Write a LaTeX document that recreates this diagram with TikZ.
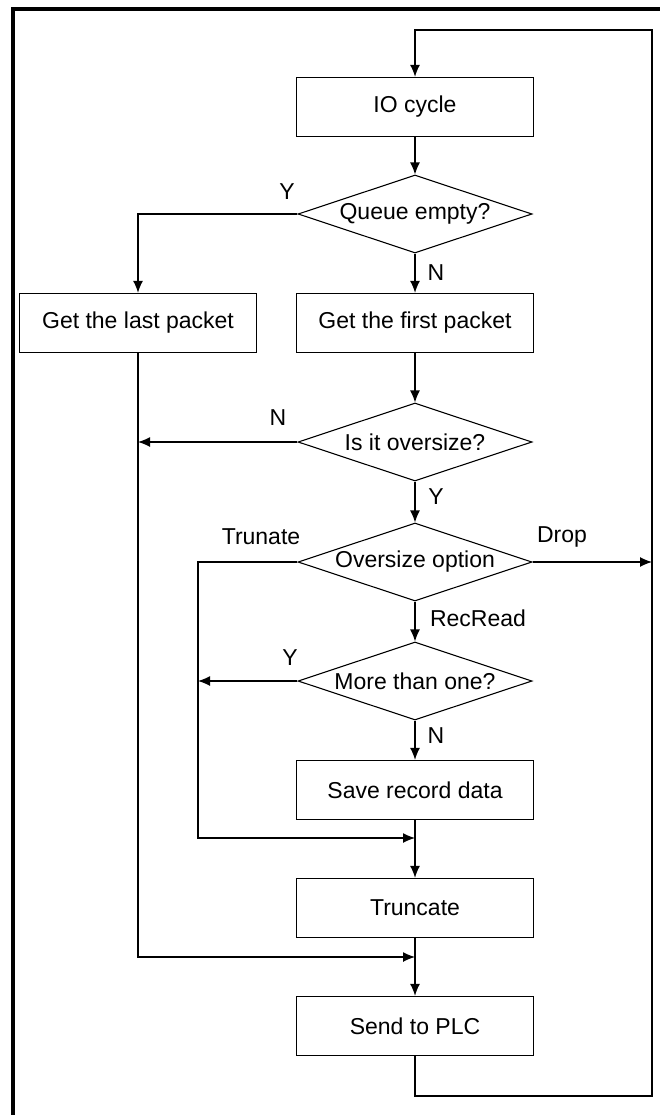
\documentclass[tikz,border=0pt]{standalone}
\usepackage{fontspec}
\setmainfont{Liberation Sans}
\usetikzlibrary{shapes.geometric,arrows.meta}
\begin{document}
\begin{tikzpicture}[
            x = 1pt, y = -1pt,
            font = \fontsize{23}{27}\selectfont,
            block/.style = {
                rectangle,
                draw,
                line width = 1.3pt,
                minimum width = 237pt,
                minimum height = 59pt},
            decision/.style = {
                diamond,
                draw,
                line width = 1.1pt,
                aspect = 3,
                inner sep = 0pt,
                minimum width = 234pt,
                minimum height = 78pt},
            arrow/.style = {
                draw,
                line width = 1.3pt,
                -{Latex[length=12pt,width=10pt]}},
            line/.style = {
                draw,
                line width = 1.3pt},
            node distance = 118pt]
        \useasboundingbox (0,0) rectangle (660,1115);
        \draw [line width=4pt] (13,1115) -- (13,9) -- (660,9);

        % Place nodes
        \node [block] (io) at (415,107) {IO cycle};
        \node [decision, node distance=107pt, below of=io] (queue) {Queue empty?};
        \node [block, node distance=109pt, below of=queue] (first) {Get the first packet};
        \node [block, node distance=277pt, left of=first] (last) {Get the last packet};
        \node [decision, node distance=119pt, below of=first] (oversize) {Is it oversize?};
        \node [decision, node distance=120pt, below of=oversize] (option) {Oversize option};
        \node [decision, node distance=119pt, below of=option] (more) {More than one?};
        \node [block, node distance=109pt, below of=more] (save) {Save record data};
        \node [block, below of=save] (trunc) {Truncate};
        \node [block, below of=trunc] (plc) {Send to PLC};

        % Branch labels
        \node (qy) at (287,192) {Y};
        \node (qn) at (436,273) {N};
        \node (on) at (278,418) {N};
        \node (oy) at (436,497) {Y};
        \node (trunate) at (261,537) {Trunate};
        \node (drop) at (562,537) {Drop};
        \node (recread) at (478,618) {RecRead};
        \node (my) at (290,658) {Y};
        \node (mn) at (436,736) {N};

        % Bend points
        \coordinate (looptop) at (415,30);
        \coordinate (loopcorner) at (652,1096);
        \coordinate (dropend) at (652,562);
        \coordinate (tcorner) at (198,838);
        \coordinate (truncjoin) at (415,838);
        \coordinate (lastjoin) at (415,957);

        % Draw edges
        \path [arrow] (io) -- (queue);
        \path [arrow] (queue) -- (first);
        \path [arrow] (queue.west) -| (last.north);
        \path [arrow] (first) -- (oversize);
        \path [arrow] (oversize.west) -- (oversize.west -| last.south);
        \path [arrow] (oversize) -- (option);
        \path [arrow] (option.east) -- (dropend);
        \path [arrow] (option.west) -| (tcorner) -- (truncjoin);
        \path [arrow] (option) -- (more);
        \path [arrow] (more.west) -- (more.west -| tcorner);
        \path [arrow] (more) -- (save);
        \path [arrow] (save) -- (trunc);
        \path [arrow] (last.south) |- (lastjoin);
        \path [arrow] (trunc) -- (plc);
        \path [arrow] (plc.south) |- (loopcorner) |- (looptop) -- (io.north);
    \end{tikzpicture}
\end{document}
